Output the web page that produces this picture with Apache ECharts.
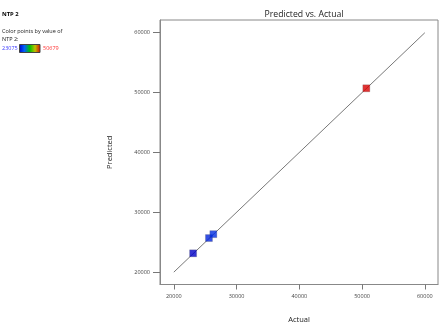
<!DOCTYPE html>
<html><head><meta charset="utf-8">
<script src="https://cdn.jsdelivr.net/npm/echarts@6/dist/echarts.min.js"></script>
<style>html,body{margin:0;padding:0;background:#fff}#c{width:444px;height:330px}</style>
</head><body><div id="c"></div>
<script>
const actual = [23075, 25600, 26300, 50679];
const predicted = [23150, 25700, 26350, 50720];
const colorValue = [23075, 25600, 26300, 50679];
const refLine = [[20000, 20000], [60000, 60000]];
const tickValues = [20000, 30000, 40000, 50000, 60000];
const colorMin = 23075, colorMax = 50679;
const colorStops = ['#0000c8', '#0060ff', '#00c000', '#c0c000', '#d80000'];

const FONT = '"Open Sans", "Noto Sans", sans-serif';
const chart = echarts.init(document.getElementById('c'), null, {renderer: 'canvas'});
const axisCommon = {
  type: 'value',
  nameLocation: 'middle',
  nameTextStyle: {fontFamily: FONT, fontSize: 7.5, color: '#222'},
  axisLine: {show: true, onZero: false, lineStyle: {color: '#888', width: 1}},
  axisTick: {show: true, inside: false, length: 5, lineStyle: {color: '#777'}, customValues: tickValues},
  axisLabel: {fontFamily: FONT, fontSize: 5.5, color: '#444', customValues: tickValues, formatter: v => String(v)},
  splitLine: {show: false}
};
chart.setOption({
  animation: false,
  title: {text: 'Predicted vs. Actual', left: 299, top: 5, textAlign: 'center',
    textStyle: {fontFamily: FONT, fontSize: 8.7, fontWeight: 'normal', color: '#222'}},
  grid: {left: 160, top: 20, right: 6, bottom: 45.5, show: true, borderColor: '#888', borderWidth: 1},
  xAxis: Object.assign({}, axisCommon, {name: 'Actual', nameGap: 31, min: 17800, max: 62100,
    axisLabel: Object.assign({}, axisCommon.axisLabel, {margin: 9})}),
  yAxis: Object.assign({}, axisCommon, {name: 'Predicted', nameGap: 46, min: 17940, max: 62130,
    axisTick: Object.assign({}, axisCommon.axisTick, {length: 7}),
    axisLabel: Object.assign({}, axisCommon.axisLabel, {margin: 10})}),
  visualMap: {show: false, type: 'continuous', min: colorMin, max: colorMax, dimension: 2, seriesIndex: 1,
    inRange: {color: colorStops}},
  series: [
    {type: 'line', data: refLine, symbol: 'none', lineStyle: {color: '#555', width: 0.8}, z: 1},
    {type: 'scatter', symbol: 'rect', symbolSize: 7,
      data: actual.map((a, i) => [a, predicted[i], colorValue[i]]),
      itemStyle: {borderColor: '#555', borderWidth: 0.3}, z: 3}
  ],
  graphic: [
    {type: 'text', x: 2, y: 14, style: {text: 'NTP 2', font: 'bold 5.8px ' + FONT, fill: '#000', verticalAlign: 'middle'}},
    {type: 'text', x: 2, y: 31, style: {text: 'Color points by value of', font: '5.5px ' + FONT, fill: '#222', verticalAlign: 'middle'}},
    {type: 'text', x: 2, y: 39.5, style: {text: 'NTP 2:', font: '5.5px ' + FONT, fill: '#222', verticalAlign: 'middle'}},
    {type: 'text', x: 2, y: 48.5, style: {text: String(colorMin), font: '5.5px ' + FONT, fill: '#3a3aff', verticalAlign: 'middle'}},
    {type: 'rect', shape: {x: 19.5, y: 44.5, width: 20.5, height: 8},
      style: {stroke: '#444', lineWidth: 1,
        fill: new echarts.graphic.LinearGradient(0, 0, 1, 0, colorStops.map((c, i) => ({offset: i / (colorStops.length - 1), color: c})))}},
    {type: 'text', x: 43, y: 48.5, style: {text: String(colorMax), font: '5.5px ' + FONT, fill: '#ff3030', verticalAlign: 'middle'}}
  ]
});
</script></body></html>
